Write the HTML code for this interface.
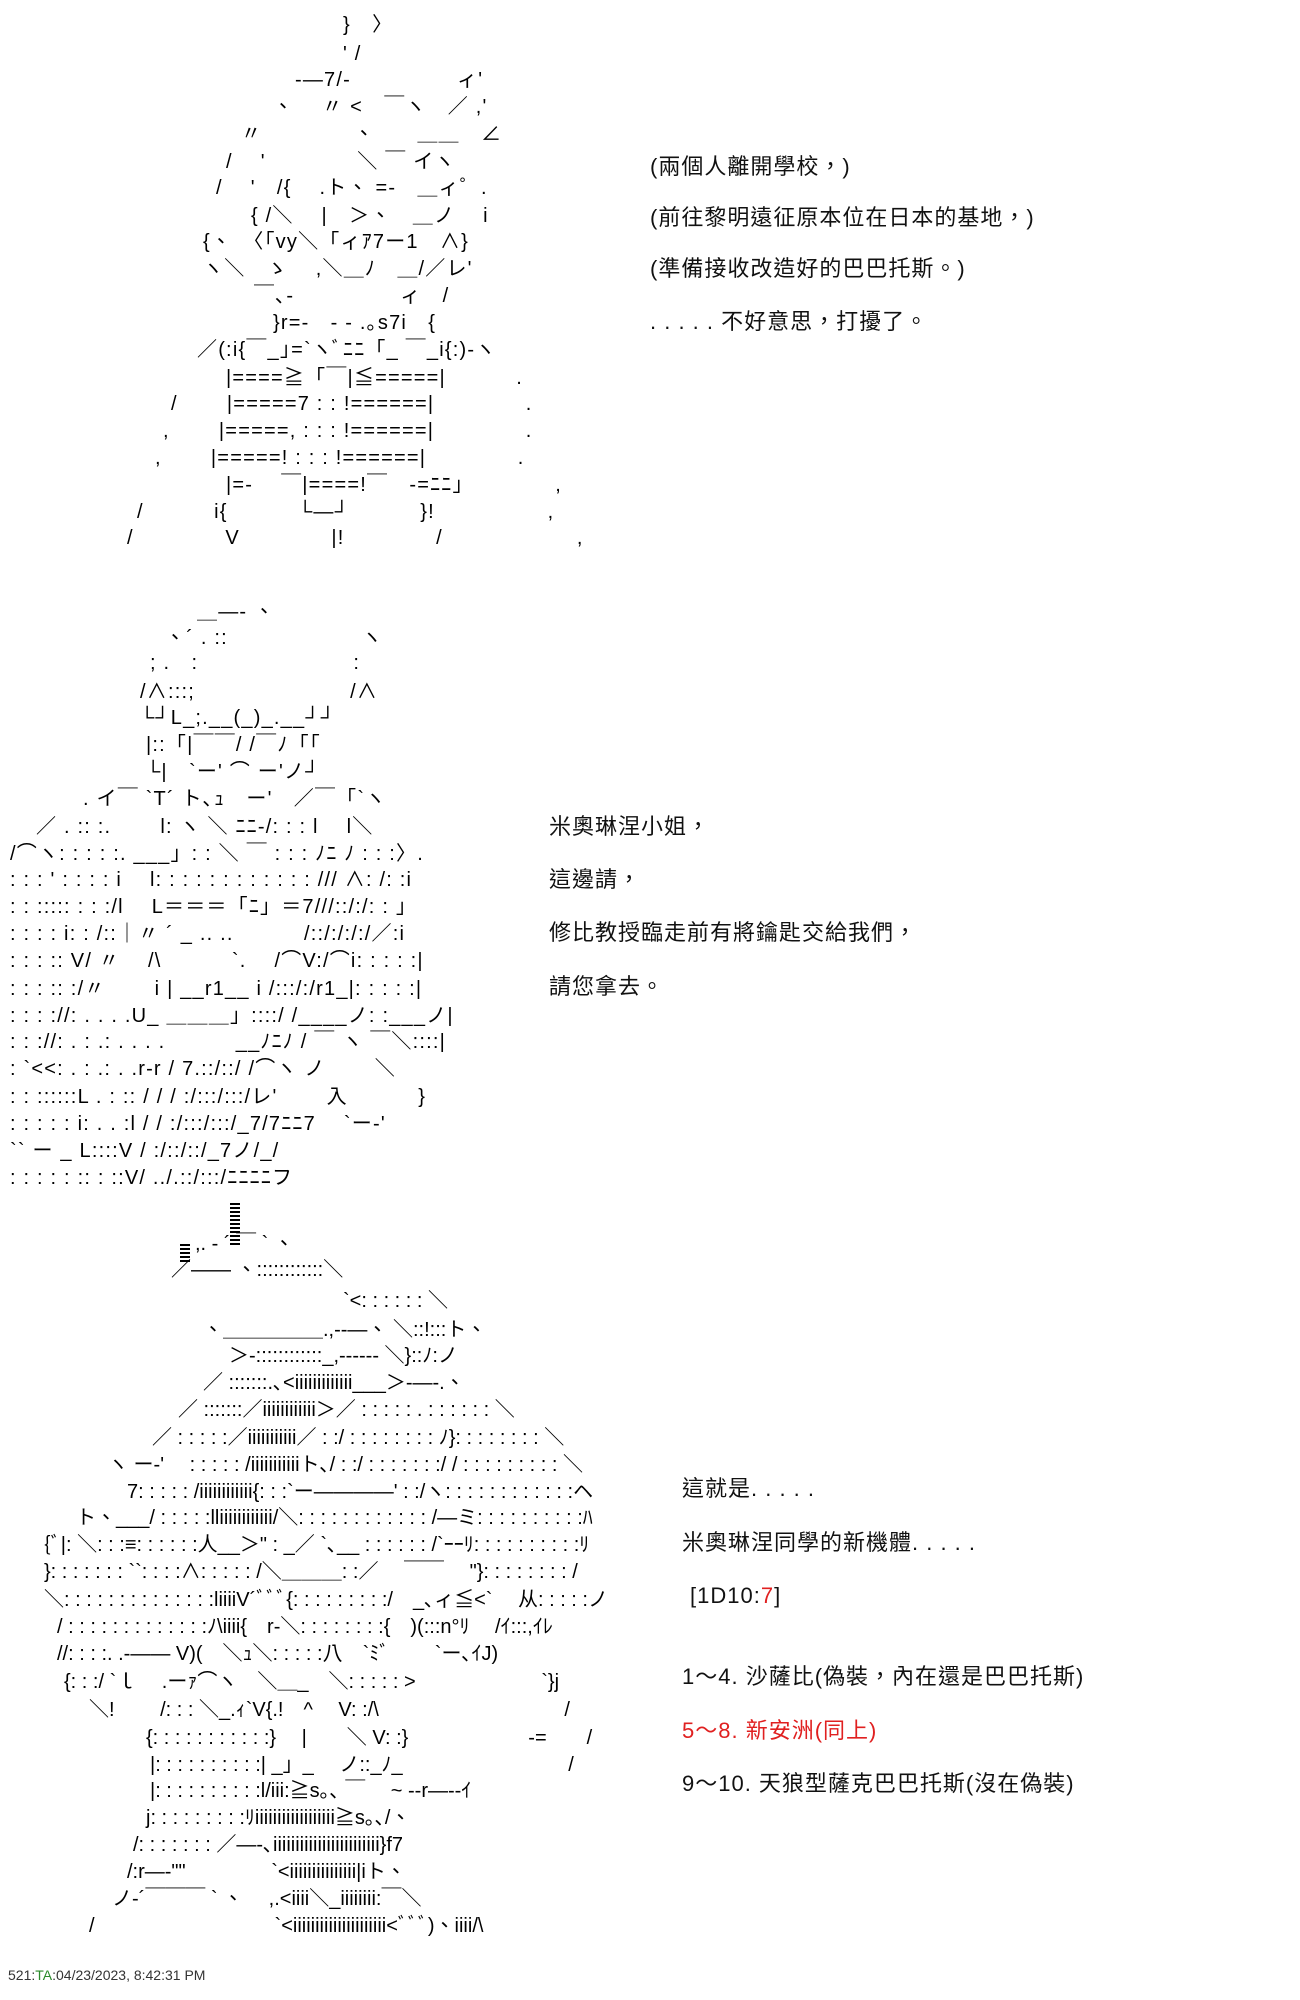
<!DOCTYPE html>
<html><head><meta charset="utf-8">
<style>
html,body{margin:0;padding:0;background:#fff;}
body{width:1300px;height:2000px;position:relative;overflow:hidden;}
.l{position:absolute;white-space:pre;font-family:"Liberation Sans","Noto Sans CJK TC","Noto Sans CJK JP",sans-serif;font-size:20px;line-height:27px;color:#000;}
.w{letter-spacing:1.2px;}
.t{position:absolute;white-space:pre;font-family:"Liberation Sans","Noto Sans CJK TC",sans-serif;font-size:22px;line-height:27px;color:#111;letter-spacing:1px;}
.red{color:#e02020;}
.bar{position:absolute;background:repeating-linear-gradient(#000 0 2px,#fff 2px 4px);}
</style></head><body>
<!-- Figure 1 -->
<div class="l w" style="top:12px;left:343px">}　〉</div>
<div class="l w" style="top:41px;left:343px">' /</div>
<div class="l w" style="top:67px;left:295px">-―7/-　　　　　ィ'</div>
<div class="l w" style="top:94px;left:273px">、　 〃 &lt;　￣ヽ　／ ,'</div>
<div class="l w" style="top:121px;left:241px">〃　　　　 、　　＿＿　∠</div>
<div class="l w" style="top:149px;left:226px">/　 '　　　　 ＼ ￣ イヽ</div>
<div class="l w" style="top:175px;left:216px">/　 '　/{　 .ト、 =-　＿ィ゜.</div>
<div class="l w" style="top:203px;left:251px">{ /＼　 |　＞、　＿ノ　 i</div>
<div class="l w" style="top:229px;left:203px">{、　〈「vy＼「ィｱ7ー1　∧}</div>
<div class="l w" style="top:256px;left:203px">ヽ＼　ゝ　 ,＼＿ﾉ　＿/／レ'</div>
<div class="l w" style="top:283px;left:254px">￣､-　　　　　ィ　/</div>
<div class="l w" style="top:310px;left:273px">}r=-　- ‐ .｡s7i　{</div>
<div class="l w" style="top:337px;left:197px">／(:i{￣_｣=`ヽﾞﾆﾆ「_ ￣_i{:)-ヽ</div>
<div class="l w" style="top:365px;left:226px">|====≧「￣|≦=====|　　　 .</div>
<div class="l w" style="top:391px;left:171px">/　　 |=====7 : : !======|　　　　 .</div>
<div class="l w" style="top:418px;left:163px">,　　 |=====, : : : !======|　　　　 .</div>
<div class="l w" style="top:445px;left:155px">,　　 |=====! : : : !======|　　　　 .</div>
<div class="l w" style="top:472px;left:226px">|=-　 ￣|====!￣　-=ﾆﾆ｣　　　　 ,</div>
<div class="l w" style="top:499px;left:137px">/　　　 i{　　　 └―┘　　　 }!　　　　　 ,</div>
<div class="l w" style="top:525px;left:127px">/　　　　 V　　　　 |!　　　　 /　　　　　　 ,</div>

<div class="t" style="top:153px;left:650px">(兩個人離開學校，)</div>
<div class="t" style="top:204px;left:650px">(前往黎明遠征原本位在日本的基地，)</div>
<div class="t" style="top:255px;left:650px">(準備接收改造好的巴巴托斯。)</div>
<div class="t" style="top:308px;left:650px">. . . . . 不好意思，打擾了。</div>

<!-- Figure 2 -->
<div class="l w" style="top:599px;left:197px">＿―- 、</div>
<div class="l w" style="top:625px;left:165px">、´ . ::　　　　　　 ヽ</div>
<div class="l w" style="top:650px;left:150px">; .　:　　　　　　　 :</div>
<div class="l w" style="top:679px;left:140px">/∧:::;　　　　　　　 /∧</div>
<div class="l w" style="top:705px;left:140px">└┘L_;.__(_)_.__┘┘</div>
<div class="l w" style="top:732px;left:146px">|::「|￣￣/ /￣ﾉ「「</div>
<div class="l w" style="top:759px;left:146px">└|　`ー' ⌒ ー'ノ┘</div>
<div class="l w" style="top:786px;left:83px">. イ￣ `T´ ト､ｭ　ー'　／￣「`ヽ</div>
<div class="l w" style="top:814px;left:36px">／ . :: :.　　 l: ヽ ＼ ﾆﾆ-/: : : l　 l＼</div>
<div class="l w" style="top:841px;left:10px">/⌒ヽ: : : : :. ___」: : ＼ ￣ : : : ﾉﾆ ﾉ : : :〉.</div>
<div class="l w" style="top:867px;left:10px">: : : ' : : : : i　 l: : : : : : : : : : : : /// ∧: /: :i</div>
<div class="l w" style="top:894px;left:10px">: : ::::: : : :/l　 L＝＝＝「ﾆ」＝7///::/:/: : ｣</div>
<div class="l w" style="top:921px;left:10px">: : : : i: : /::｜〃 ´ _ .. ..　　　 /::/:/:/:/／:i</div>
<div class="l w" style="top:948px;left:10px">: : : :: V/ 〃　 /\　　　 `.　 /⌒V:/⌒i: : : : :|</div>
<div class="l w" style="top:976px;left:10px">: : : :: :/〃　　 i | __r1__ i /:::/:/r1_|: : : : :|</div>
<div class="l w" style="top:1003px;left:10px">: : : ://: . . . .U_ ＿＿＿」::::/ /____ノ: :___ノ|</div>
<div class="l w" style="top:1029px;left:10px">: : ://: . : .: . . . .　　　 __ﾉﾆﾉ / ￣ ヽ ￣＼::::|</div>
<div class="l w" style="top:1056px;left:10px">: `&lt;&lt;: . : .: . .r‐r / 7.::/::/ /⌒ヽ ノ　　 ＼</div>
<div class="l w" style="top:1084px;left:10px">: : ::::::L . : :: / / / :/:::/:::/レ'　　 入　　　 }</div>
<div class="l w" style="top:1111px;left:10px">: : : : : i: . . :l / / :/:::/:::/_7/7ﾆﾆ7　 `ー‐'</div>
<div class="l w" style="top:1138px;left:10px">`` ー _ L::::V / :/::/::/_7ノ/_/</div>
<div class="l w" style="top:1165px;left:10px">: : : : : :: : ::V/ ../.::/:::/ﾆﾆﾆﾆフ</div>

<div class="t" style="top:813px;left:549px">米奧琳涅小姐，</div>
<div class="t" style="top:866px;left:549px">這邊請，</div>
<div class="t" style="top:919px;left:549px">修比教授臨走前有將鑰匙交給我們，</div>
<div class="t" style="top:973px;left:549px">請您拿去。</div>

<!-- Figure 3 -->
<div class="bar" style="top:1203px;left:230px;width:10px;height:42px"></div>
<div class="bar" style="top:1244px;left:180px;width:10px;height:20px"></div>
<div class="l" style="top:1231px;left:195px">,. - ´ ￣ ` 、</div>
<div class="l" style="top:1257px;left:171px">／―― 、::::::::::::＼</div>
<div class="l" style="top:1288px;left:343px">`&lt;: : : : : : ＼</div>
<div class="l" style="top:1317px;left:203px">、＿＿＿＿＿.,--―、 ＼::!:::ト、</div>
<div class="l" style="top:1343px;left:229px">＞-::::::::::::_,------ ＼}::ﾉ:ノ</div>
<div class="l" style="top:1370px;left:203px">／ :::::::.､&lt;iiiiiiiiiiiii___＞-―-.、</div>
<div class="l" style="top:1397px;left:178px">／ :::::::／iiiiiiiiiiii＞／ : : : : : . : : : : : : ＼</div>
<div class="l" style="top:1425px;left:152px">／ : : : : :／iiiiiiiiiii／ : :/ : : : : : : : : ﾉ}: : : : : : : : ＼</div>
<div class="l" style="top:1452px;left:108px">ヽ ー-'　 : : : : : /iiiiiiiiiiiト､/ : :/ : : : : : : :/ / : : : : : : : : : ＼</div>
<div class="l" style="top:1479px;left:127px">7: : : : : /iiiiiiiiiiii{: : :`ー――――' : :/ヽ: : : : : : : : : : : :ヘ</div>
<div class="l" style="top:1505px;left:76px">ト、___/ : : : : :lliiiiiiiiiiii/＼: : : : : : : : : : : : /―ミ: : : : : : : : : :ﾊ</div>
<div class="l" style="top:1532px;left:44px">{ﾞ|: ＼: : :≡: : : : : :人__＞" : _／ `､__ : : : : : : /`ｰｰﾘ: : : : : : : : : :ﾘ</div>
<div class="l" style="top:1559px;left:44px">}: : : : : : : ``: : : :∧: : : : : /＼＿＿＿: :／　 ￣￣　 "}: : : : : : : : /</div>
<div class="l" style="top:1587px;left:44px">＼: : : : : : : : : : : : : :liiiiV´ﾞﾞﾞ{: : : : : : : : :/　_､ィ≦&lt;`　 从: : : : :ノ</div>
<div class="l" style="top:1614px;left:57px">/ : : : : : : : : : : : : :ﾉ\iiii{　r‐＼: : : : : : : :{　)(:::n°ﾘ　 /ｲ:::,ｲﾚ</div>
<div class="l" style="top:1641px;left:57px">//: : : :. .-―― V)(　＼ｭ＼: : : : :八　`ﾐﾞ　　 `ー､ｲJ)</div>
<div class="l" style="top:1669px;left:64px">{: : :/ `ｌ　 .ーｧ⌒ヽ　＼＿_　＼: : : : : &gt;　　　　　　 `}j</div>
<div class="l" style="top:1697px;left:89px">＼!　　 /: : : ＼_.ｨ`V{.!　^　 V: :/\　　　　　　　　　 /</div>
<div class="l" style="top:1725px;left:146px">{: : : : : : : : : : :}　 |　　＼ V: :}　　　　　　-=　　/</div>
<div class="l" style="top:1752px;left:150px">|: : : : : : : : : :| _」_　 ノ::_ﾉ_　　　　　　　　 /</div>
<div class="l" style="top:1778px;left:150px">|: : : : : : : : : :l/iii:≧s｡､ ￣　 ~ -‐r―--ｲ</div>
<div class="l" style="top:1805px;left:146px">j: : : : : : : : :ﾘiiiiiiiiiiiiiiiiii≧s｡､/、</div>
<div class="l" style="top:1832px;left:133px">/: : : : : : : ／―‐､iiiiiiiiiiiiiiiiiiiiiiii}f7</div>
<div class="l" style="top:1859px;left:127px">/:r―‐""　　　　 `&lt;iiiiiiiiiiiiiii|iト、</div>
<div class="l" style="top:1886px;left:112px">ノ-´￣￣￣ ` 、　 ,.&lt;iiii＼_iiiiiiii:￣＼</div>
<div class="l" style="top:1913px;left:89px">/　　　　　　　　　`&lt;iiiiiiiiiiiiiiiiiiiii&lt;ﾞﾞﾞ)、iiii/\</div>

<div class="t" style="top:1475px;left:682px">這就是. . . . .</div>
<div class="t" style="top:1529px;left:682px">米奧琳涅同學的新機體. . . . .</div>
<div class="t" style="top:1582px;left:690px">[1D10:<span class="red">7</span>]</div>
<div class="t" style="top:1663px;left:682px">1～4. 沙薩比(偽裝，內在還是巴巴托斯)</div>
<div class="t red" style="top:1717px;left:682px">5～8. 新安洲(同上)</div>
<div class="t" style="top:1770px;left:682px">9～10. 天狼型薩克巴巴托斯(沒在偽裝)</div>

<div style="position:absolute;top:1966px;left:8px;font:14px/18px 'Liberation Sans',sans-serif;color:#333;white-space:pre">521:<span style="color:#2a8a2a">TA</span>:04/23/2023, 8:42:31 PM</div>
</body></html>
